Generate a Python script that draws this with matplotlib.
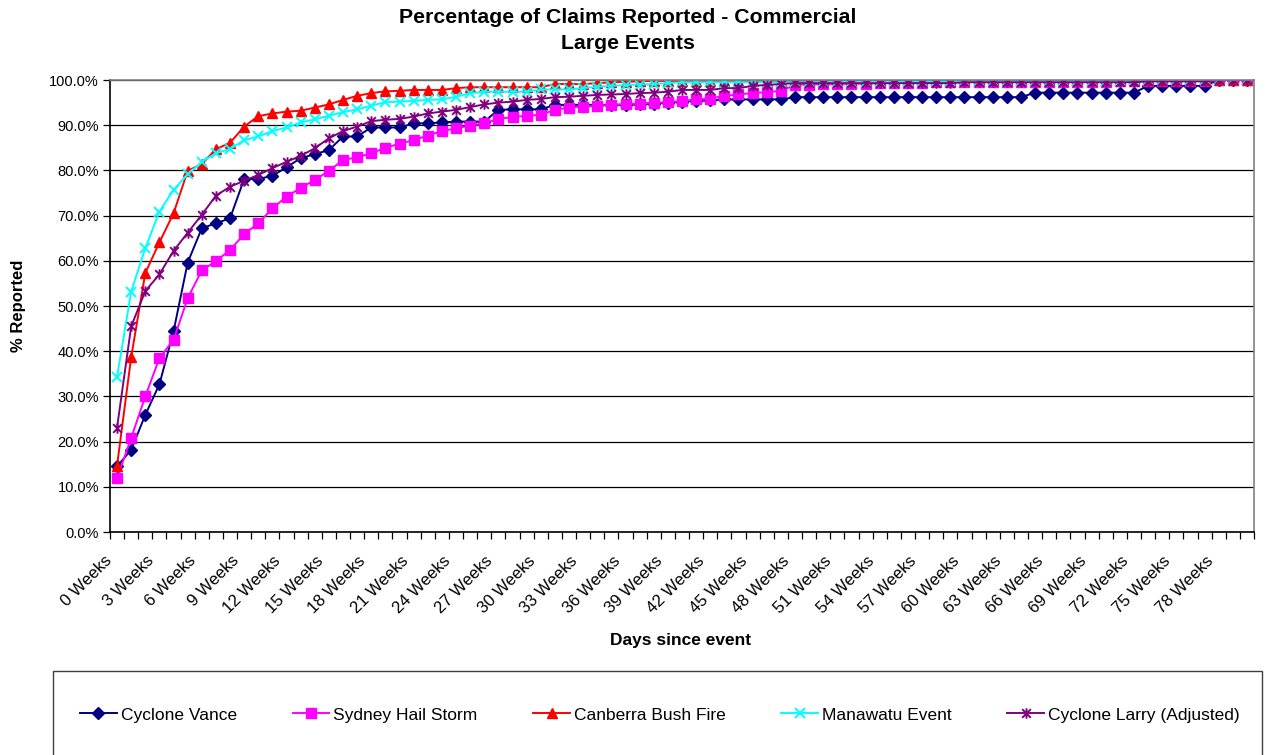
import matplotlib
matplotlib.use("Agg")
import matplotlib.pyplot as plt
from matplotlib.path import Path
from matplotlib.patches import Rectangle
from matplotlib.transforms import ScaledTranslation

plt.rcParams['font.family'] = ['Liberation Sans', 'DejaVu Sans']

# Weekly categories 0..80, labelled every third week
weeks = list(range(81))
week_labels = [f"{w} Weeks" for w in weeks]
label_every = 3

# Cumulative % of claims reported for each event
cyclone_vance = [
    14.5, 18.2, 25.9, 32.7, 44.4, 59.6, 67.2, 68.3, 69.4, 78.1,
    78.1, 78.8, 80.7, 82.7, 83.6, 84.5, 87.5, 87.5, 89.5, 89.5,
    89.5, 90.4, 90.4, 90.6, 90.8, 90.8, 90.8, 93.4, 93.5, 93.5,
    93.5, 94.5, 94.5, 94.5, 94.5, 94.5, 94.5, 94.6, 94.8, 95.0,
    95.2, 95.4, 95.5, 95.7, 95.7, 95.7, 95.7, 95.7, 96.2, 96.2,
    96.2, 96.2, 96.2, 96.2, 96.2, 96.2, 96.2, 96.2, 96.2, 96.2,
    96.2, 96.2, 96.2, 96.2, 96.2, 97.2, 97.2, 97.2, 97.2, 97.2,
    97.2, 97.2, 97.2, 98.7, 98.7, 98.7, 98.7, 98.7, 100.0, 100.0,
    100.0,
]
sydney_hail = [
    11.9, 20.8, 30.0, 38.5, 42.5, 51.7, 57.9, 59.9, 62.4, 65.9,
    68.3, 71.6, 74.2, 76.1, 77.9, 79.9, 82.3, 82.9, 83.8, 85.0,
    85.9, 86.7, 87.7, 88.7, 89.3, 89.9, 90.4, 91.4, 91.8, 92.1,
    92.3, 93.4, 93.9, 94.1, 94.3, 94.5, 94.7, 94.8, 95.0, 95.1,
    95.4, 95.7, 95.9, 96.5, 96.8, 97.1, 97.3, 97.6, 98.9, 99.0,
    99.1, 99.1, 99.2, 99.2, 99.3, 99.3, 99.4, 99.4, 99.6, 99.6,
    99.6, 99.6, 99.6, 99.6, 99.6, 99.6, 99.6, 99.6, 99.6, 99.6,
    99.6, 99.8, 99.8, 99.8, 99.8, 99.8, 99.8, 99.8, 100.0, 100.0,
    100.0,
]
canberra_fire = [
    14.7, 38.7, 57.3, 64.1, 70.5, 79.9, 81.4, 84.7, 86.1, 89.7,
    92.0, 92.6, 93.0, 93.2, 93.9, 94.6, 95.6, 96.5, 97.1, 97.5,
    97.6, 97.8, 97.8, 97.8, 98.2, 98.4, 98.4, 98.4, 98.4, 98.4,
    98.4, 99.1, 99.1, 99.1, 99.3, 99.5, 99.6, 99.7, 99.8, 99.8,
    99.8, 99.8, 99.8, 99.8, 99.8, 99.8, 99.8, 99.8, 99.8, 99.8,
    100.0, 100.0, 100.0, 100.0, 100.0, 100.0, 100.0, 100.0, 100.0, 100.0,
    100.0, 100.0, 100.0, 100.0, 100.0, 100.0, 100.0, 100.0, 100.0, 100.0,
    100.0, 100.0, 100.0, 100.0, 100.0, 100.0, 100.0, 100.0, 100.0, 100.0,
    100.0,
]
manawatu = [
    34.3, 53.2, 62.8, 70.9, 75.7, 79.1, 81.9, 83.8, 84.7, 86.7,
    87.5, 88.7, 89.5, 90.6, 91.3, 92.1, 92.9, 93.5, 94.3, 95.1,
    95.2, 95.4, 95.6, 95.7, 96.3, 97.1, 97.4, 97.4, 97.4, 97.4,
    97.9, 97.9, 97.9, 98.2, 98.5, 98.7, 98.9, 99.0, 99.1, 99.3,
    99.5, 99.5, 99.5, 99.5, 99.5, 99.5, 99.5, 99.5, 99.5, 99.5,
    99.5, 99.5, 99.5, 99.5, 99.5, 99.5, 99.7, 99.7, 99.7, 99.7,
    99.7, 99.7, 99.7, 99.7, 99.7, 99.7, 99.7, 99.7, 99.7, 99.7,
    99.7, 99.7, 100.0, 100.0, 100.0, 100.0, 100.0, 100.0, 100.0, 100.0,
    100.0,
]
cyclone_larry = [
    23.1, 45.5, 53.3, 57.0, 62.2, 66.2, 70.2, 74.4, 76.4, 77.7,
    79.0, 80.5, 81.9, 83.2, 84.9, 87.1, 88.7, 89.7, 90.9, 91.2,
    91.4, 91.9, 92.6, 93.0, 93.4, 94.0, 94.6, 95.0, 95.2, 95.6,
    95.8, 96.2, 96.3, 96.5, 96.7, 96.8, 96.9, 97.1, 97.2, 97.4,
    97.8, 97.8, 97.8, 98.2, 98.2, 98.7, 98.9, 99.1, 99.3, 99.3,
    99.3, 99.3, 99.3, 99.3, 99.3, 99.3, 99.3, 99.3, 99.3, 99.3,
    99.5, 99.5, 99.5, 99.5, 99.5, 99.5, 99.5, 99.5, 99.5, 99.5,
    99.5, 99.5, 99.5, 99.7, 99.7, 99.7, 99.7, 99.7, 100.0, 100.0,
    100.0,
]

# Excel-style "star" marker: an x with a vertical stroke through it
star_marker = Path(
    [(-1, -1), (1, 1), (-1, 1), (1, -1), (0, -1.2), (0, 1.2)],
    [Path.MOVETO, Path.LINETO, Path.MOVETO, Path.LINETO, Path.MOVETO, Path.LINETO],
)

series = [
    ("Cyclone Vance", cyclone_vance, "#000080", "D", 6.3, True),
    ("Sydney Hail Storm", sydney_hail, "#FF00FF", "s", 6.8, True),
    ("Canberra Bush Fire", canberra_fire, "#FF0000", "^", 7.5, True),
    ("Manawatu Event", manawatu, "#00FFFF", "x", 7, False),
    ("Cyclone Larry (Adjusted)", cyclone_larry, "#800080", star_marker, 7.5, False),
]

W, H = 1271, 755
fig = plt.figure(figsize=(W / 100, H / 100), dpi=100)
ax = fig.add_axes([110 / W, 1 - 532 / H, 1144 / W, 452 / H])

handles = []
for name, vals, color, marker, ms, filled in series:
    if filled:
        ln, = ax.plot(weeks, vals, color=color, lw=1.4, marker=marker, ms=ms,
                      mfc=color, mec=color, label=name)
    else:
        ln, = ax.plot(weeks, vals, color=color, lw=1.4, marker=marker, ms=ms,
                      mfc="none", mec=color, mew=1.4, label=name)
    handles.append(ln)

# axes, grid and ticks
ax.set_xlim(-0.5, len(weeks) - 0.5)
ax.set_ylim(0, 100)
ax.set_yticks(range(0, 101, 10))
ax.set_yticklabels([f"{v:.1f}%" for v in range(0, 101, 10)], fontsize=10.5)
ax.yaxis.grid(True, color="black", lw=0.9)
ax.set_axisbelow(True)

ax.set_xticks(weeks[::label_every])
ax.set_xticklabels(week_labels[::label_every], rotation=45, ha="right",
                   va="center", rotation_mode="anchor", fontsize=12)
ax.set_xticks([w - 0.5 for w in weeks] + [weeks[-1] + 0.5], minor=True)
ax.tick_params(axis="x", which="major", length=0, pad=16)
ax.tick_params(axis="x", which="minor", length=5, width=0.9, color="black")
ax.tick_params(axis="y", length=5, width=0.9, color="black", pad=3)

# nudge the slanted week labels a little left and down
shift = ScaledTranslation(-0.08, -0.04, fig.dpi_scale_trans)
for lbl in ax.get_xticklabels():
    lbl.set_transform(lbl.get_transform() + shift)

ax.spines["left"].set_color("black")
ax.spines["bottom"].set_color("black")
ax.spines["top"].set_color("#808080")
ax.spines["right"].set_color("#808080")
for s in ax.spines.values():
    s.set_linewidth(1.2)

fig.text(681 / W, 1 - 640 / H, "Days since event", fontsize=12.5,
         fontweight="bold", ha="center", va="center")
fig.text(19 / W, 1 - 306 / H, "% Reported", fontsize=12, fontweight="bold",
         rotation=90, ha="center", va="center")

fig.text(628 / W, 1 - 8 / H, "Percentage of Claims Reported - Commercial\nLarge Events",
         fontsize=15.3, fontweight="bold", ha="center", va="top",
         linespacing=1.45)

# legend box along the bottom
fig.patches.append(Rectangle((53 / W, -0.05), 1209 / W, 1 - 671 / H + 0.05,
                             transform=fig.transFigure, fill=False,
                             edgecolor="#404040", lw=1.0))
fig.legend(handles=handles, loc="center", bbox_to_anchor=(660 / W, 1 - 715 / H),
           ncol=5, frameon=False, fontsize=12.5, handlelength=2.1,
           handletextpad=0.25, columnspacing=3.2)

fig.savefig("out.png", dpi=100)
